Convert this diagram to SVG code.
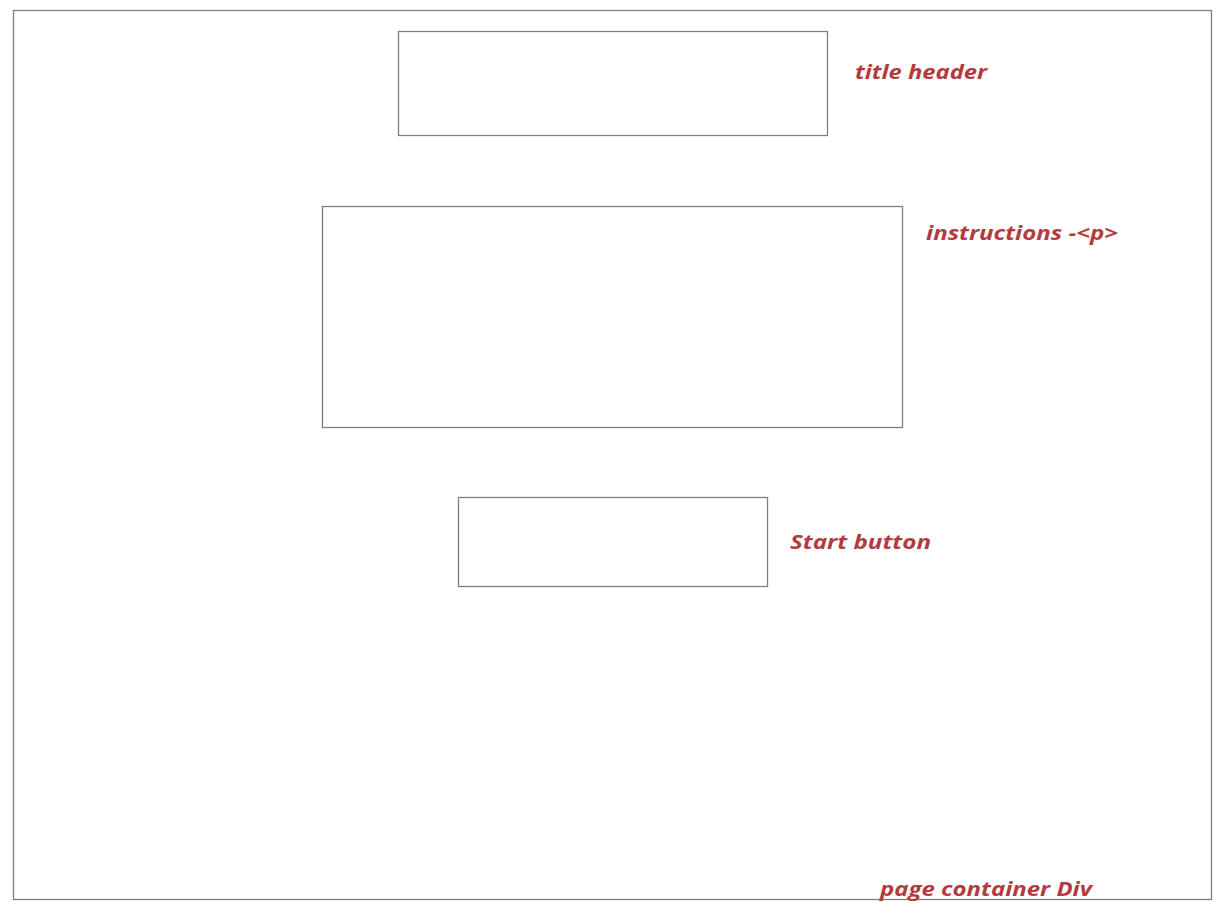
<svg xmlns="http://www.w3.org/2000/svg" width="1226" height="914" viewBox="0 0 1226 914">
<style>
.box{fill:#fff;stroke:#7f7f7f;stroke-width:1.3}
.lbl{font-family:"Open Sans","Liberation Sans",sans-serif;font-weight:bold;font-style:italic;font-size:20px;fill:#b33b3e}
</style>
<rect width="1226" height="914" fill="#fff"/>
<g id="page-container">
<rect class="box" x="13.5" y="10.5" width="1198" height="889"/>
<text class="lbl" x="880" y="896" textLength="212" lengthAdjust="spacingAndGlyphs">page container Div</text>
</g>
<g id="title-header">
<rect class="box" x="398.5" y="31.5" width="429" height="104"/>
<text class="lbl" x="855" y="79" textLength="132" lengthAdjust="spacingAndGlyphs">title header</text>
</g>
<g id="instructions">
<rect class="box" x="322.5" y="206.5" width="580" height="221"/>
<text class="lbl" x="926" y="240" textLength="192" lengthAdjust="spacingAndGlyphs">instructions -&lt;p&gt;</text>
</g>
<g id="start-button">
<rect class="box" x="458.5" y="497.5" width="309" height="89"/>
<text class="lbl" x="790" y="549" textLength="141" lengthAdjust="spacingAndGlyphs">Start button</text>
</g>
<g id="connectors"></g>
</svg>
